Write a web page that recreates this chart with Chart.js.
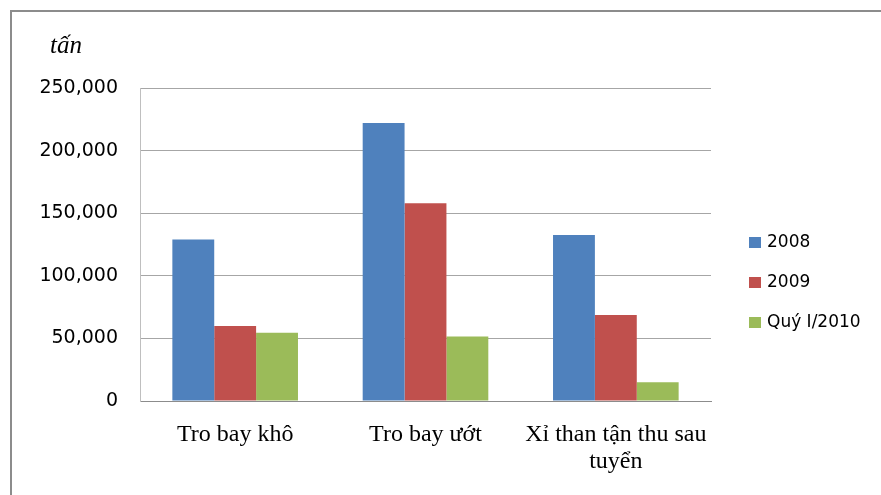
<!DOCTYPE html>
<html><head><meta charset="utf-8">
<script src="https://cdn.jsdelivr.net/npm/chart.js@4/dist/chart.umd.min.js"></script>
<style>html,body{margin:0;padding:0;background:#fff}#wrap{width:881px;height:495px;position:relative}</style>
</head><body><div id="wrap"><canvas id="c" width="881" height="495"></canvas></div>
<script>
const categories = ["Tro bay khô", "Tro bay ướt", ["Xỉ than tận thu sau", "tuyển"]];
const seriesNames = ["2008", "2009", "Quý I/2010"];
const values2008 = [129000, 222000, 132500];
const values2009 = [60000, 158000, 68700];
const valuesQ1_2010 = [54500, 51500, 15000];
const yTicks = [0, 50000, 100000, 150000, 200000, 250000];
const unitLabel = "tấn";
const colors = ["#4F81BD", "#C0504D", "#9BBB59"];

const frameAndLegend = {
  id: 'frameAndLegend',
  afterDraw(chart) {
    const ctx = chart.ctx;
    ctx.save();
    ctx.strokeStyle = '#8c8c8c';
    ctx.lineWidth = 2;
    ctx.beginPath();
    ctx.moveTo(11, 495); ctx.lineTo(11, 11); ctx.lineTo(881, 11);
    ctx.stroke();
    ctx.fillStyle = '#000';
    ctx.font = 'italic 25px "Liberation Serif"';
    ctx.textBaseline = 'alphabetic';
    ctx.textAlign = 'left';
    ctx.fillText(unitLabel, 50, 53);
    ctx.font = '17px "DejaVu Sans"';
    ctx.textBaseline = 'middle';
    chart.data.datasets.forEach((ds, i) => {
      const y = 242 + i * 40;
      ctx.fillStyle = ds.backgroundColor;
      ctx.fillRect(749, y - 5, 12, 11);
      ctx.fillStyle = '#000';
      ctx.fillText(ds.label, 767, y + 1);
    });
    ctx.restore();
  }
};

new Chart(document.getElementById('c'), {
  type: 'bar',
  data: {
    labels: categories,
    datasets: [
      { label: seriesNames[0], data: values2008, backgroundColor: colors[0] },
      { label: seriesNames[1], data: values2009, backgroundColor: colors[1] },
      { label: seriesNames[2], data: valuesQ1_2010, backgroundColor: colors[2] }
    ]
  },
  options: {
    responsive: false,
    animation: false,
    layout: { padding: { left: 0, right: 170, top: 88, bottom: 0 } },
    plugins: { legend: { display: false }, tooltip: { enabled: false } },
    datasets: { bar: { barPercentage: 1, categoryPercentage: 0.66 } },
    scales: {
      x: {
        grid: { display: false, drawTicks: false },
        border: { display: true, color: '#8c8c8c', width: 1 },
        ticks: { color: '#000', font: { family: 'Liberation Serif', size: 24, lineHeight: 1.12 }, padding: 20, maxRotation: 0, autoSkip: false },
        afterFit(s) { s.height = 94; }
      },
      y: {
        min: 0, max: 250000,
        afterBuildTicks(s) { s.ticks = yTicks.map(v => ({ value: v })); },
        grid: { color: '#a6a6a6', drawTicks: false, lineWidth: 1 },
        border: { display: true, color: '#bfbfbf', width: 1 },
        ticks: {
          color: '#000', font: { family: 'DejaVu Sans', size: 19 }, padding: 22,
          callback: v => v.toLocaleString('en-US')
        },
        afterFit(s) { s.width = 140; }
      }
    }
  },
  plugins: [frameAndLegend]
});
</script>
</body></html>
